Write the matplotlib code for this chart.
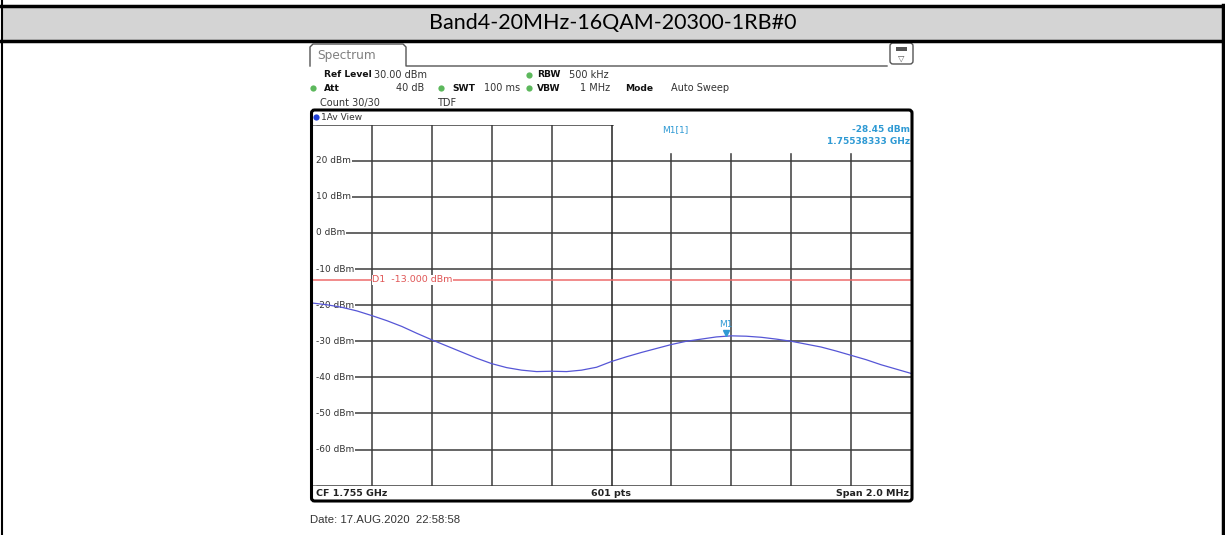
import numpy as np
import matplotlib.pyplot as plt
from matplotlib.patches import FancyBboxPatch, Rectangle

# trace readings (fraction of span -> dBm)
span_frac = np.linspace(0, 1, 41)
trace_dbm = [-19.4, -19.9, -20.6, -21.6, -22.9, -24.3, -25.9, -27.8, -29.6, -31.3,
             -33.0, -34.7, -36.2, -37.3, -38.0, -38.4, -38.3, -38.4, -38.0, -37.2,
             -35.6, -34.3, -33.1, -32.0, -30.9, -30.0, -29.4, -28.8, -28.5, -28.6,
             -28.9, -29.4, -30.0, -30.8, -31.6, -32.7, -33.9, -35.1, -36.5, -37.7,
             -38.9]

center_ghz = 1.755
span_ghz = 0.002
ref_level = 30
y_ticks = [20, 10, 0, -10, -20, -30, -40, -50, -60]
limit_dbm = -13.0
marker_ghz = 1.75538333
marker_dbm = -28.45
title = "Band4-20MHz-16QAM-20300-1RB#0"

freqs = center_ghz - span_ghz / 2 + span_frac * span_ghz
f0, f1 = center_ghz - span_ghz / 2, center_ghz + span_ghz / 2

W, H = 1225, 535
fig = plt.figure(figsize=(W / 100, H / 100), dpi=100)

# spectrum grid area
gx0, gx1, gy0, gy1 = 312, 911, 124.6, 485.7
ax = fig.add_axes([gx0 / W, (H - gy1) / H, (gx1 - gx0) / W, (gy1 - gy0) / H])
ax.set_xlim(f0, f1)
ax.set_ylim(-70, ref_level)
for s in ax.spines.values():
    s.set_visible(False)
ax.set_xticks([])
ax.set_yticks([])
ax.set_zorder(1)

grid_c = "#3c3c3c"
for yv in range(-70, 31, 10):
    ax.axhline(yv, color=grid_c, lw=1.1, zorder=1)
for k in range(1, 10):
    ax.axvline(f0 + k * span_ghz / 10, color=grid_c if k != 5 else "#222222", lw=1.1, zorder=1)

# white box behind marker readout hides grid tops, white strip left of the level labels
ax.add_patch(Rectangle((center_ghz + 0.00001, 22.3), span_ghz / 2, 8, color="white", zorder=2))
ax.add_patch(Rectangle((f0, -69.5), 0.0000135, 99, color="white", zorder=2))

for yv in y_ticks:
    ax.text(f0 + 0.0000135, yv, f"{yv} dBm", fontsize=6.5, color="#333333", va="center", ha="left",
            bbox=dict(facecolor="white", edgecolor="none", pad=0.6), zorder=3)

ax.axhline(limit_dbm, color="#ee6b6b", lw=1.1, zorder=4)
ax.text(f0 + 0.000202, limit_dbm, "D1  -13.000 dBm", fontsize=6.8, color="#e05555", va="center", ha="left",
        bbox=dict(facecolor="white", edgecolor="none", pad=0.3), zorder=5)

ax.plot(freqs, trace_dbm, color="#5656d6", lw=0.9, zorder=6)

mk_c = "#2f9ad4"
ax.plot([marker_ghz], [marker_dbm + 0.6], marker="v", color=mk_c, ms=5, zorder=7)
ax.text(marker_ghz, marker_dbm + 1.9, "M1", fontsize=6.5, color=mk_c, ha="center", va="bottom", zorder=7)
ax.text(f0 + 0.00117, 28.6, "M1[1]", fontsize=6.5, color=mk_c, ha="left", va="center", zorder=7)
ax.text(f1 - 0.000003, 28.6, f"{marker_dbm:.2f} dBm", fontsize=6.5, color=mk_c, ha="right", va="center",
        fontweight="bold", zorder=7)
ax.text(f1 - 0.000003, 25.4, f"{marker_ghz:.8f} GHz", fontsize=6.5, color=mk_c, ha="right", va="center",
        fontweight="bold", zorder=7)

# page decoration in pixel coordinates
bg = fig.add_axes([0, 0, 1, 1])
bg.set_xlim(0, W)
bg.set_ylim(H, 0)
bg.axis("off")
bg.patch.set_visible(False)
bg.set_zorder(2)

bg.add_patch(Rectangle((2, 7), 1220, 33, facecolor="#d4d4d4", edgecolor="none"))
bg.plot([0, W], [6, 6], color="black", lw=2.5)
bg.plot([0, W], [41, 41], color="black", lw=2.5)
bg.plot([1.5, 1.5], [0, H], color="black", lw=1.5)
bg.plot([1223, 1223], [5, H], color="black", lw=2.5)
bg.text(613, 23, title, fontsize=15.5, family="Lato", ha="center", va="center", color="black")

# tab and button
tab_c = "#555555"
bg.plot([310, 310, 313, 403, 406, 406, 887], [66, 47, 44, 44, 47, 66, 66], color=tab_c, lw=1)
bg.text(317, 56, "Spectrum", fontsize=8.7, color="#808080", ha="left", va="center")
bg.add_patch(FancyBboxPatch((890, 43), 23, 21, boxstyle="round,pad=0,rounding_size=3",
                            facecolor="white", edgecolor=tab_c, lw=1))
bg.add_patch(Rectangle((896, 47), 11, 4, facecolor="#555555", edgecolor="none"))
bg.text(901.5, 58, "\u25bd", fontsize=6, color="#555555", ha="center", va="center")

txt_c = "#333333"


def hdr(x, y, s, bold=False, ha="left"):
    bg.text(x, y, s, fontsize=6.6 if bold else 7.0, color="#111111" if bold else txt_c,
            fontweight="bold" if bold else "normal", ha=ha, va="center")


def dot(x, y, c="#5cb85c"):
    bg.plot([x], [y], marker="o", ms=4.5, color=c, mec="none")


hdr(324, 74.5, "Ref Level", bold=True)
hdr(374, 74.5, "30.00 dBm")
dot(313, 88.3)
hdr(324, 88.3, "Att", bold=True)
hdr(424, 88.3, "40 dB", ha="right")
dot(441, 88.3)
hdr(452, 88.3, "SWT", bold=True)
hdr(484, 88.3, "100 ms")
dot(529, 74.5)
hdr(537, 74.5, "RBW", bold=True)
hdr(569, 74.5, "500 kHz")
dot(529, 88.3)
hdr(537, 88.3, "VBW", bold=True)
hdr(610, 88.3, "1 MHz", ha="right")
hdr(625, 88.3, "Mode", bold=True)
hdr(671, 88.3, "Auto Sweep")
hdr(320, 103, "Count 30/30")
hdr(437, 103, "TDF")

# instrument frame
bg.add_patch(FancyBboxPatch((311.5, 110), 600.5, 391, boxstyle="round,pad=0,rounding_size=3",
                            facecolor="none", edgecolor="black", lw=2.2))
dot(316, 117, c="#1f3fd6")
bg.text(321, 117, "1Av View", fontsize=6.5, color=txt_c, ha="left", va="center")
bg.text(316, 493.5, "CF 1.755 GHz", fontsize=6.8, fontweight="bold", color="#222222", ha="left", va="center")
bg.text(611, 493.5, "601 pts", fontsize=6.8, fontweight="bold", color="#222222", ha="center", va="center")
bg.text(909, 493.5, "Span 2.0 MHz", fontsize=6.8, fontweight="bold", color="#222222", ha="right", va="center")

bg.text(310, 520, "Date: 17.AUG.2020  22:58:58", fontsize=8.2, family="Liberation Sans",
        color="#333333", ha="left", va="center")

fig.savefig("out.png", dpi=100)
